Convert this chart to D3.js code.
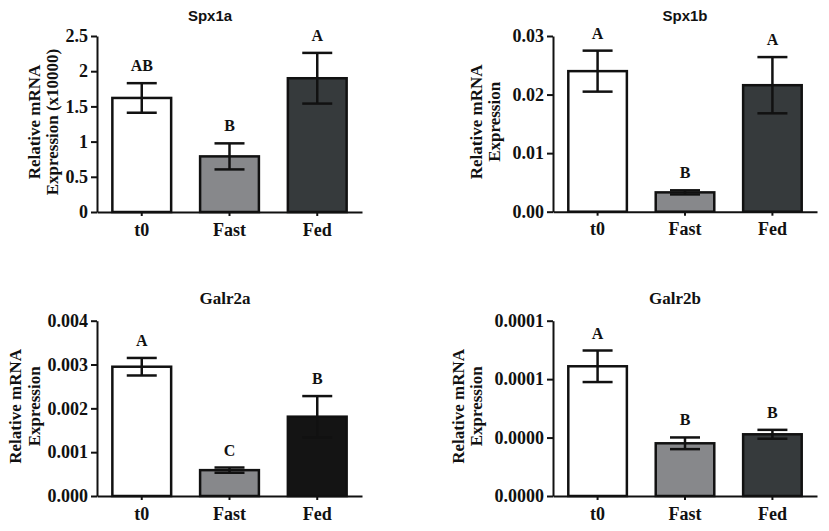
<!DOCTYPE html>
<html>
<head>
<meta charset="utf-8">
<script src="https://cdn.jsdelivr.net/npm/d3@7"></script>
<style>
  body { margin: 0; background: #fff; }
  .tick text { font-family: "Liberation Serif", serif; font-weight: bold; font-size: 18px; fill: #111; }
</style>
</head>
<body>
<script>
// data
var groups = ["t0", "Fast", "Fed"];

var spx1aMean = [1.62, 0.79, 1.90];
var spx1aErr = [0.21, 0.185, 0.36];
var spx1aLetters = ["AB", "B", "A"];
var spx1aTicks = [0, 0.5, 1, 1.5, 2, 2.5];
var spx1aTickLabels = ["0", "0.5", "1", "1.5", "2", "2.5"];

var spx1bMean = [0.0240, 0.0033, 0.0216];
var spx1bErr = [0.0035, 0.00035, 0.0048];
var spx1bLetters = ["A", "B", "A"];
var spx1bTicks = [0, 0.01, 0.02, 0.03];
var spx1bTickLabels = ["0.00", "0.01", "0.02", "0.03"];

var galr2aMean = [0.00295, 0.00059, 0.00181];
var galr2aErr = [0.0002, 0.00006, 0.00047];
var galr2aLetters = ["A", "C", "B"];
var galr2aTicks = [0, 0.001, 0.002, 0.003, 0.004];
var galr2aTickLabels = ["0.000", "0.001", "0.002", "0.003", "0.004"];

var galr2bMean = [0.000111, 0.0000451, 0.0000528];
var galr2bErr = [0.0000135, 0.000005, 0.0000038];
var galr2bLetters = ["A", "B", "B"];
var galr2bTicks = [0, 0.00005, 0.0001, 0.00015];
var galr2bTickLabels = ["0.0000", "0.0000", "0.0001", "0.0001"];

var w = 829, h = 531;

var svg = d3.select("body").append("svg")
  .attr("width", w)
  .attr("height", h);

// one panel of the figure
function drawPanel(p) {
  var g = svg.append("g");

  var y = d3.scaleLinear().domain(p.domain).range([p.bottom, p.top]);
  var x = d3.scaleBand().domain(groups)
    .range([p.left, p.right])
    .paddingInner(0.33)
    .paddingOuter(0.175);

  var rows = groups.map(function(d, i) {
    return {g: d, m: p.mean[i], e: p.err[i], l: p.letters[i], c: p.colors[i]};
  });

  // bars
  g.selectAll("rect.bar")
    .data(rows)
    .enter()
    .append("rect")
    .attr("class", "bar")
    .attr("x", function(d) { return x(d.g); })
    .attr("y", function(d) { return y(d.m); })
    .attr("width", x.bandwidth())
    .attr("height", function(d) { return y(0) - y(d.m); })
    .attr("fill", function(d) { return d.c; })
    .attr("stroke", "#111")
    .attr("stroke-width", 2.5);

  // error bars
  var cap = 15;
  var eb = g.selectAll("g.err")
    .data(rows)
    .enter()
    .append("g")
    .attr("class", "err")
    .attr("stroke", "#111")
    .attr("stroke-width", 2.5);
  eb.append("line")
    .attr("x1", function(d) { return x(d.g) + x.bandwidth() / 2; })
    .attr("x2", function(d) { return x(d.g) + x.bandwidth() / 2; })
    .attr("y1", function(d) { return y(d.m - d.e); })
    .attr("y2", function(d) { return y(d.m + d.e); });
  eb.append("line")
    .attr("x1", function(d) { return x(d.g) + x.bandwidth() / 2 - cap; })
    .attr("x2", function(d) { return x(d.g) + x.bandwidth() / 2 + cap; })
    .attr("y1", function(d) { return y(d.m + d.e); })
    .attr("y2", function(d) { return y(d.m + d.e); });
  eb.append("line")
    .attr("x1", function(d) { return x(d.g) + x.bandwidth() / 2 - cap; })
    .attr("x2", function(d) { return x(d.g) + x.bandwidth() / 2 + cap; })
    .attr("y1", function(d) { return y(d.m - d.e); })
    .attr("y2", function(d) { return y(d.m - d.e); });

  // significance letters
  g.selectAll("text.sig")
    .data(rows)
    .enter()
    .append("text")
    .attr("class", "sig")
    .attr("x", function(d) { return x(d.g) + x.bandwidth() / 2; })
    .attr("y", function(d) { return y(d.m + d.e) - 12; })
    .attr("text-anchor", "middle")
    .style("font-family", "'Liberation Serif', serif")
    .style("font-weight", "bold")
    .style("font-size", "16px")
    .attr("fill", "#111")
    .text(function(d) { return d.l; });

  // axes
  var yAxis = d3.axisLeft(y)
    .tickValues(p.ticks)
    .tickFormat(function(d, i) { return p.tickLabels[i]; })
    .tickSize(6)
    .tickSizeOuter(0)
    .tickPadding(3);
  var yg = g.append("g")
    .attr("transform", "translate(" + p.left + ",0)")
    .call(yAxis);

  var xAxis = d3.axisBottom(x)
    .tickSize(4)
    .tickSizeOuter(0)
    .tickPadding(7);
  var xg = g.append("g")
    .attr("transform", "translate(0," + p.bottom + ")")
    .call(xAxis);

  [yg, xg].forEach(function(a) {
    a.select(".domain").attr("stroke", "#111").attr("stroke-width", 2);
    a.selectAll(".tick line").attr("stroke", "#111").attr("stroke-width", 2);
  });

  // title
  g.append("text")
    .attr("x", p.titleX)
    .attr("y", p.titleY)
    .attr("text-anchor", "middle")
    .style("font-family", p.titleFont)
    .style("font-weight", "bold")
    .style("font-size", p.titleSize)
    .attr("fill", "#111")
    .text(p.title);

  // y label, two lines
  var cy = (p.top + p.bottom) / 2 - 2;
  p.ylab.forEach(function(t, i) {
    g.append("text")
      .attr("transform", "translate(" + p.ylabX[i] + "," + cy + ") rotate(-90)")
      .attr("text-anchor", "middle")
      .style("font-family", "'Liberation Serif', serif")
      .style("font-weight", "bold")
      .style("font-size", "17px")
      .attr("fill", "#111")
      .text(t);
  });
}

var fills = ["#ffffff", "#87888b", "#363a3c"];

drawPanel({
  title: "Spx1a", titleX: 210, titleY: 21, titleFont: "'Liberation Sans', Arial, sans-serif", titleSize: "15px",
  left: 97, right: 362, top: 36, bottom: 212,
  domain: [0, 2.5], ticks: spx1aTicks, tickLabels: spx1aTickLabels,
  mean: spx1aMean, err: spx1aErr, letters: spx1aLetters, colors: fills,
  ylab: ["Relative mRNA", "Expression (x10000)"], ylabX: [40, 58]
});

drawPanel({
  title: "Spx1b", titleX: 685, titleY: 21, titleFont: "'Liberation Sans', Arial, sans-serif", titleSize: "15px",
  left: 553, right: 817, top: 36, bottom: 211.7,
  domain: [0, 0.03], ticks: spx1bTicks, tickLabels: spx1bTickLabels,
  mean: spx1bMean, err: spx1bErr, letters: spx1bLetters, colors: fills,
  ylab: ["Relative mRNA", "Expression"], ylabX: [482, 500]
});

drawPanel({
  title: "Galr2a", titleX: 225, titleY: 304, titleFont: "'Liberation Serif', serif", titleSize: "17px",
  left: 97, right: 362, top: 320.7, bottom: 496,
  domain: [0, 0.004], ticks: galr2aTicks, tickLabels: galr2aTickLabels,
  mean: galr2aMean, err: galr2aErr, letters: galr2aLetters, colors: ["#ffffff", "#87888b", "#141414"],
  ylab: ["Relative mRNA", "Expression"], ylabX: [21, 40]
});

drawPanel({
  title: "Galr2b", titleX: 675, titleY: 304, titleFont: "'Liberation Serif', serif", titleSize: "17px",
  left: 553, right: 817, top: 320.7, bottom: 496,
  domain: [0, 0.00015], ticks: galr2bTicks, tickLabels: galr2bTickLabels,
  mean: galr2bMean, err: galr2bErr, letters: galr2bLetters, colors: fills,
  ylab: ["Relative mRNA", "Expression"], ylabX: [464, 482]
});
</script>
</body>
</html>
